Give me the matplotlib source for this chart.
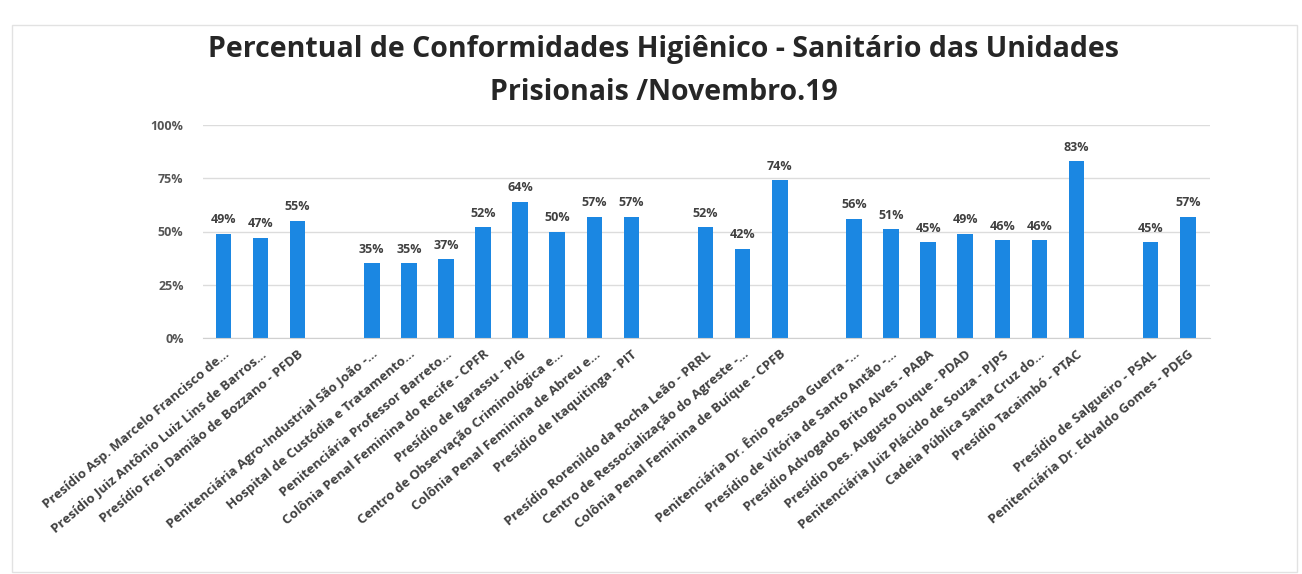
import matplotlib.pyplot as plt
from matplotlib.patches import Rectangle
from matplotlib.ticker import PercentFormatter

plt.rcParams['font.family'] = ['Open Sans', 'DejaVu Sans']

# ------------------------
# Data
# ------------------------
units = [
    "Presídio Asp. Marcelo Francisco de...",
    "Presídio Juiz Antônio Luiz Lins de Barros...",
    "Presídio Frei Damião de Bozzano - PFDB",
    "Penitenciária Agro-Industrial São João -...",
    "Hospital de Custódia e Tratamento...",
    "Penitenciária Professor Barreto...",
    "Colônia Penal Feminina do Recife - CPFR",
    "Presídio de Igarassu - PIG",
    "Centro de Observação Criminológica e...",
    "Colônia Penal Feminina de Abreu e...",
    "Presídio de Itaquitinga - PIT",
    "Presídio Rorenildo da Rocha Leão - PRRL",
    "Centro de Ressocialização do Agreste -...",
    "Colônia Penal Feminina de Buíque - CPFB",
    "Penitenciária Dr. Ênio Pessoa Guerra -...",
    "Presídio de Vitória de Santo Antão -...",
    "Presídio Advogado Brito Alves - PABA",
    "Presídio Des. Augusto Duque - PDAD",
    "Penitenciária Juiz Plácido de Souza - PJPS",
    "Cadeia Pública Santa Cruz do...",
    "Presídio Tacaimbó - PTAC",
    "Presídio de Salgueiro - PSAL",
    "Penitenciária Dr. Edvaldo Gomes - PDEG",
]
conformity = [49, 47, 55,
              35, 35, 37, 52, 64, 50, 57, 57,
              52, 42, 74,
              56, 51, 45, 49, 46, 46, 83,
              45, 57]
# region group of each unit (an empty slot separates groups)
region = [0] * 3 + [1] * 8 + [2] * 3 + [3] * 7 + [4] * 2

title_lines = ["Percentual de Conformidades Higiênico - Sanitário das Unidades",
               "Prisionais /Novembro.19"]

W, H = 1302, 574
fig = plt.figure(figsize=(W / 100, H / 100), dpi=100)
ax = fig.add_axes([203 / W, 1 - 338 / H, (1210 - 203) / W, (338 - 125) / H])

xs = [i + g for i, g in enumerate(region)]
bars = ax.bar(xs, conformity, width=0.42, color="#1b87e2", zorder=2)

for b, v in zip(bars, conformity):
    ax.text(b.get_x() + b.get_width() / 2, v + 3.5, f"{v}%",
            ha="center", va="bottom", fontsize=9, fontweight="bold", color="#404040")

ax.set_ylim(0, 100)
ax.set_xlim(-0.55, 26.6)
ax.set_yticks([0, 25, 50, 75, 100])
ax.yaxis.set_major_formatter(PercentFormatter(decimals=0))
ax.grid(axis="y", color="#dcdcdc", linewidth=1, zorder=0)
for s in ["top", "right", "left"]:
    ax.spines[s].set_visible(False)
ax.spines["bottom"].set_color("#d0d0d0")
ax.tick_params(axis="both", length=0, colors="#555555")
ax.tick_params(axis="y", pad=14, labelsize=9)
for t in ax.get_yticklabels():
    t.set_fontweight("bold")

ax.set_xticks(xs)
ax.set_xticklabels(units, rotation=40, ha="right", rotation_mode="anchor",
                   fontsize=9.5, fontweight="bold", color="#404040")
ax.tick_params(axis="x", pad=7)

fig.text(664 / W, 1 - 57 / H, title_lines[0], ha="center", va="baseline",
         fontsize=20.5, fontweight="bold", color="#262626")
fig.text(664 / W, 1 - 100 / H, title_lines[1], ha="center", va="baseline",
         fontsize=20.5, fontweight="bold", color="#262626")

# faint chart border
fig.patches.append(Rectangle((12 / W, 0.003), (1297 - 12) / W, 1 - 25 / H - 0.003,
                             transform=fig.transFigure, fill=False,
                             edgecolor="#e2e2e2", linewidth=1))

plt.savefig("out.png", dpi=100)
plt.close()
